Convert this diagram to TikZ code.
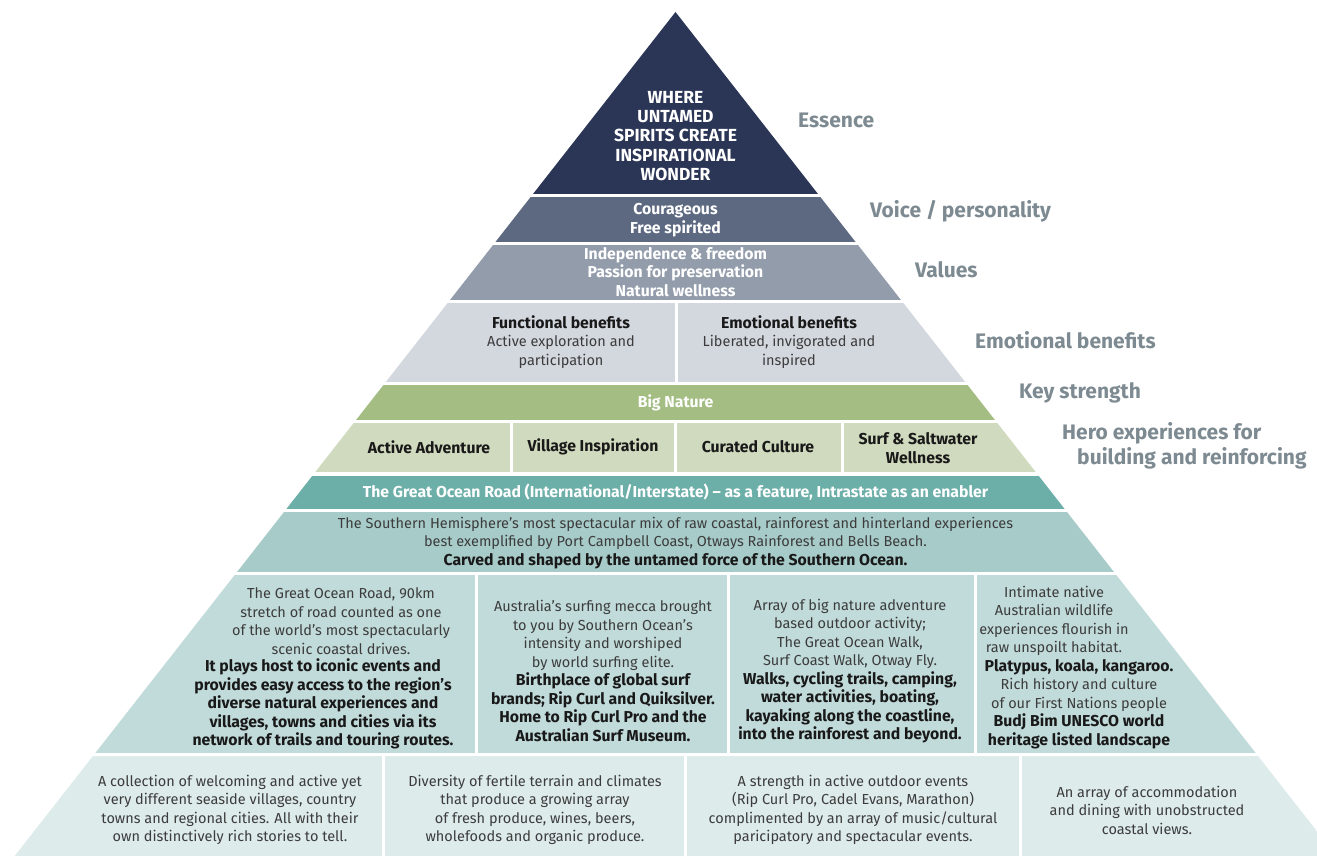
\documentclass[tikz,border=0pt]{standalone}
\usepackage{fontspec}
\setmainfont{Fira Sans}
\usepackage{tikz}
\usetikzlibrary{positioning}
\definecolor{essencecol}{RGB}{43,54,86}
\definecolor{voicecol}{RGB}{93,105,129}
\definecolor{valuescol}{RGB}{146,156,171}
\definecolor{benefitcol}{RGB}{211,215,222}
\definecolor{naturecol}{RGB}{163,189,130}
\definecolor{herocol}{RGB}{208,218,190}
\definecolor{roadcol}{RGB}{108,174,168}
\definecolor{southcol}{RGB}{167,203,201}
\definecolor{pillarcol}{RGB}{193,219,218}
\definecolor{basecol}{RGB}{221,235,234}
\definecolor{sidegray}{RGB}{125,138,145}
\definecolor{bodytext}{RGB}{60,60,60}
\newcommand{\hilite}[1]{{\fontsize{15.8}{18.5}\selectfont\bfseries\color{black!90}#1}}

\begin{document}
\begin{tikzpicture}[
    x=1pt, y=-1pt,
    txt/.style={align=center, inner sep=0pt, text=bodytext,
                font=\fontsize{14.5}{18.5}\selectfont},
    whitetxt/.style={txt, text=white, font=\fontsize{15.8}{18.5}\selectfont\bfseries},
    darktxt/.style={txt, text=black!90, font=\fontsize{15.8}{18.5}\selectfont\bfseries},
    sidelabel/.style={anchor=west, align=left, inner sep=0pt, text=sidegray,
                      font=\fontsize{21}{25}\selectfont\bfseries}
]
\useasboundingbox (0,0) rectangle (1317,856);

% pyramid layers
\begin{scope}
\clip (675.5,12) -- (3.7,870) -- (1347.3,870) -- cycle;
\fill[essencecol] (-20,0)   rectangle (1400,194);
\fill[voicecol]   (-20,197) rectangle (1400,242);
\fill[valuescol]  (-20,245) rectangle (1400,299.5);
\fill[benefitcol] (-20,302.5) rectangle (674.5,381.5);
\fill[benefitcol] (677.5,302.5) rectangle (1400,381.5);
\fill[naturecol]  (-20,385) rectangle (1400,419.5);
\fill[herocol]    (-20,423) rectangle (510,472);
\fill[herocol]    (513,423) rectangle (673.5,472);
\fill[herocol]    (676.5,423) rectangle (840.5,472);
\fill[herocol]    (843.5,423) rectangle (1400,472);
\fill[roadcol]    (-20,475.5) rectangle (1400,509);
\fill[southcol]   (-20,512) rectangle (1400,572);
\fill[pillarcol]  (-20,575) rectangle (474.5,752.5);
\fill[pillarcol]  (477.5,575) rectangle (726.5,752.5);
\fill[pillarcol]  (729.5,575) rectangle (973.5,752.5);
\fill[pillarcol]  (976.5,575) rectangle (1400,752.5);
\fill[basecol]    (-20,755.5) rectangle (381.5,900);
\fill[basecol]    (384.5,755.5) rectangle (683.5,900);
\fill[basecol]    (686.5,755.5) rectangle (1018.5,900);
\fill[basecol]    (1021.5,755.5) rectangle (1400,900);
\end{scope}

% layer texts
\node[whitetxt, font=\fontsize{17.5}{19.3}\selectfont\bfseries] (essence) at (675.5,136)
  {WHERE\\UNTAMED\\SPIRITS CREATE\\INSPIRATIONAL\\WONDER};
\node[whitetxt] (voice) at (675.5,220) {Courageous\\Free spirited};
\node[whitetxt] (values) at (675.5,272)
  {Independence \& freedom\\Passion for preservation\\Natural wellness};
\node[txt] (functional) at (561,342)
  {\hilite{Functional benefits}\\Active exploration and\\participation};
\node[txt] (emotional) at (789,342)
  {\hilite{Emotional benefits}\\Liberated, invigorated and\\inspired};
\node[whitetxt] (nature) at (675.5,403) {Big Nature};
\node[darktxt] (adventure) at (429,447) {Active Adventure};
\node[darktxt] (village) at (593,447) {Village Inspiration};
\node[darktxt] (culture) at (758,447) {Curated Culture};
\node[darktxt] (surf) at (918,448) {Surf \& Saltwater\\Wellness};
\node[whitetxt] (road) at (675.5,492)
  {The Great Ocean Road (International/Interstate) – as a feature, Intrastate as an enabler};
\node[txt] (south) at (675.5,543)
  {The Southern Hemisphere’s most spectacular mix of raw coastal, rainforest and hinterland experiences\\
   best exemplified by Port Campbell Coast, Otways Rainforest and Bells Beach.\\
   \hilite{Carved and shaped by the untamed force of the Southern Ocean.}};

% pillars
\node[txt] (roadintro) at (341,621)
  {The Great Ocean Road, 90km\\stretch of road counted as one\\of the world’s most spectacularly\\
   scenic coastal drives.};
\node[txt] (roadpillar) at (323,704)
  {\hilite{It plays host to iconic events and}\\
   \hilite{provides easy access to the region’s}\\
   \hilite{diverse natural experiences and}\\
   \hilite{villages, towns and cities via its}\\
   \hilite{network of trails and touring routes.}};
\node[txt] (surfpillar) at (603,671)
  {Australia’s surfing mecca brought\\to you by Southern Ocean’s\\intensity and worshiped\\
   by world surfing elite.\\
   \hilite{Birthplace of global surf}\\
   \hilite{brands; Rip Curl and Quiksilver.}\\
   \hilite{Home to Rip Curl Pro and the}\\
   \hilite{Australian Surf Museum.}};
\node[txt] (naturepillar) at (850,671)
  {Array of big nature adventure\\based outdoor activity;\\The Great Ocean Walk,\\
   Surf Coast Walk, Otway Fly.\\
   \hilite{Walks, cycling trails, camping,}\\
   \hilite{water activities, boating,}\\
   \hilite{kayaking along the coastline,}\\
   \hilite{into the rainforest and beyond.}};
\node[txt] (wildintro) at (1054,621)
  {Intimate native\\Australian wildlife\\experiences flourish in\\raw unspoilt habitat.};
\node[txt] (wildpillar) at (1079,704)
  {\hilite{Platypus, koala, kangaroo.}\\
   Rich history and culture\\of our First Nations people\\
   \hilite{Budj Bim UNESCO world}\\
   \hilite{heritage listed landscape}};

% base
\node[txt] (villages) at (230,810)
  {A collection of welcoming and active yet\\very different seaside villages, country\\
   towns and regional cities. All with their\\own distinctively rich stories to tell.};
\node[txt] (produce) at (535,810)
  {Diversity of fertile terrain and climates\\that produce a growing array\\
   of fresh produce, wines, beers,\\wholefoods and organic produce.};
\node[txt] (events) at (853,810)
  {A strength in active outdoor events\\(Rip Curl Pro, Cadel Evans, Marathon)\\
   complimented by an array of music/cultural\\paricipatory and spectacular events.};
\node[txt] (dining) at (1147,810)
  {An array of accommodation\\and dining with unobstructed\\coastal views.};

% side labels
\node[sidelabel] (lblessence) at (798,120) {Essence};
\node[sidelabel] (lblvoice) at (870,211) {Voice / personality};
\node[sidelabel] (lblvalues) at (915,270) {Values};
\node[sidelabel] (lblbenefits) at (975,340) {Emotional benefits};
\node[sidelabel] (lblstrength) at (1019,393) {Key strength};
\node[sidelabel] (lblhero) at (1062,446)
  {Hero experiences for\\\hspace*{15pt}building and reinforcing};
\end{tikzpicture}
\end{document}
